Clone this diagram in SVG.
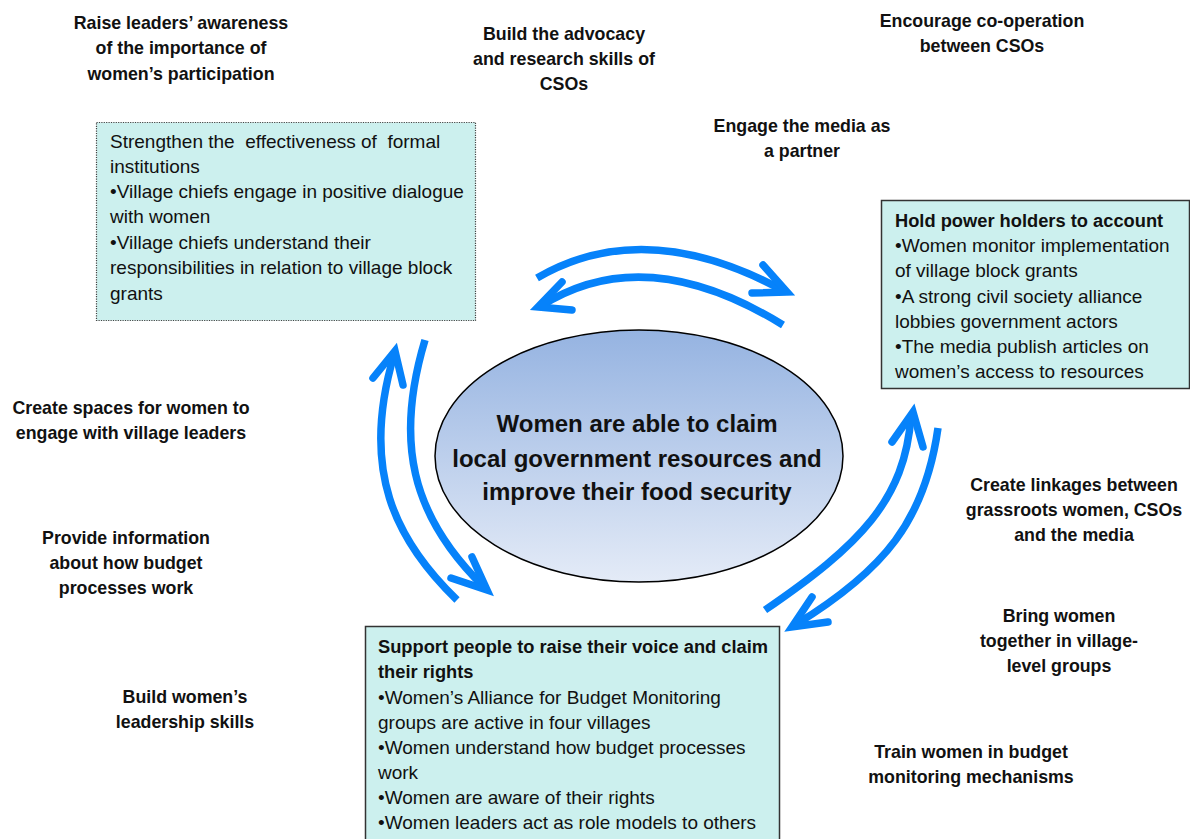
<svg xmlns="http://www.w3.org/2000/svg" width="1190" height="839" viewBox="0 0 1190 839">
<defs>
<linearGradient id="eg" x1="0" y1="0" x2="0" y2="1">
<stop offset="0" stop-color="#95b3e1"/>
<stop offset="1" stop-color="#e4ebf7"/>
</linearGradient>
<style>
.lbl{font-family:"Liberation Sans",Arial,sans-serif;font-weight:bold;font-size:17.8px;fill:#111;text-anchor:middle}
.bt{font-family:"Liberation Sans",Arial,sans-serif;font-size:19px;fill:#111;white-space:pre}
.bh{font-weight:bold;font-size:18.3px}
.box{fill:#ccf0ee}
.ct{font-family:"Liberation Sans",Arial,sans-serif;font-weight:bold;font-size:24px;fill:#111;text-anchor:middle}
.arr{fill:none;stroke:#0682fa;stroke-width:7.5;stroke-linecap:butt}
.hd{fill:none;stroke:#0682fa;stroke-width:7.5;stroke-linecap:round;stroke-linejoin:miter}
</style>
</defs>
<rect width="1190" height="839" fill="#fff"/>

<g id="center">
<ellipse cx="639" cy="456" rx="204" ry="126" fill="url(#eg)" stroke="#000" stroke-width="1.5"/>
<text class="ct" x="637" y="432">Women are able to claim</text>
<text class="ct" x="637" y="467">local government resources and</text>
<text class="ct" x="637" y="500">improve their food security</text>
</g>

<g id="box-formal">
<rect class="box" x="96.5" y="122.5" width="379" height="198" stroke="#444" stroke-width="1.2" stroke-dasharray="1.2 1.2"/>
<text class="bt" x="110" y="148">Strengthen the  effectiveness of  formal</text>
<text class="bt" x="110" y="173">institutions</text>
<text class="bt" x="110" y="198">•Village chiefs engage in positive dialogue</text>
<text class="bt" x="110" y="223">with women</text>
<text class="bt" x="110" y="249">•Village chiefs understand their</text>
<text class="bt" x="110" y="274">responsibilities in relation to village block</text>
<text class="bt" x="110" y="300">grants</text>
</g>

<g id="box-account">
<rect class="box" x="881.5" y="200.5" width="308" height="188" stroke="#333" stroke-width="1.5"/>
<text class="bt bh" x="895" y="227">Hold power holders to account</text>
<text class="bt" x="895" y="252">•Women monitor implementation</text>
<text class="bt" x="895" y="277">of village block grants</text>
<text class="bt" x="895" y="303">•A strong civil society alliance</text>
<text class="bt" x="895" y="328">lobbies government actors</text>
<text class="bt" x="895" y="353">•The media publish articles on</text>
<text class="bt" x="895" y="378">women’s access to resources</text>
</g>

<g id="box-voice">
<rect class="box" x="365.5" y="626.5" width="414" height="220" stroke="#333" stroke-width="1.5"/>
<text class="bt bh" x="378" y="653">Support people to raise their voice and claim</text>
<text class="bt bh" x="378" y="678">their rights</text>
<text class="bt" x="378" y="704">•Women’s Alliance for Budget Monitoring</text>
<text class="bt" x="378" y="729">groups are active in four villages</text>
<text class="bt" x="378" y="754">•Women understand how budget processes</text>
<text class="bt" x="378" y="779">work</text>
<text class="bt" x="378" y="804">•Women are aware of their rights</text>
<text class="bt" x="378" y="829">•Women leaders act as role models to others</text>
</g>

<g id="label-raise">
<text class="lbl" x="181" y="29">Raise leaders’ awareness</text>
<text class="lbl" x="181" y="54">of the importance of</text>
<text class="lbl" x="181" y="80">women’s participation</text>
</g>
<g id="label-advocacy">
<text class="lbl" x="564" y="40">Build the advocacy</text>
<text class="lbl" x="564" y="65">and research skills of</text>
<text class="lbl" x="564" y="90">CSOs</text>
</g>
<g id="label-cooperation">
<text class="lbl" x="982" y="27">Encourage co-operation</text>
<text class="lbl" x="982" y="52">between CSOs</text>
</g>
<g id="label-media">
<text class="lbl" x="802" y="132">Engage the media as</text>
<text class="lbl" x="802" y="157">a partner</text>
</g>
<g id="label-spaces">
<text class="lbl" x="131" y="414">Create spaces for women to</text>
<text class="lbl" x="131" y="439">engage with village leaders</text>
</g>
<g id="label-info">
<text class="lbl" x="126" y="544">Provide information</text>
<text class="lbl" x="126" y="569">about how budget</text>
<text class="lbl" x="126" y="594">processes work</text>
</g>
<g id="label-leadership">
<text class="lbl" x="185" y="703">Build women’s</text>
<text class="lbl" x="185" y="728">leadership skills</text>
</g>
<g id="label-linkages">
<text class="lbl" x="1074" y="491">Create linkages between</text>
<text class="lbl" x="1074" y="516">grassroots women, CSOs</text>
<text class="lbl" x="1074" y="541">and the media</text>
</g>
<g id="label-groups">
<text class="lbl" x="1059" y="622">Bring women</text>
<text class="lbl" x="1059" y="647">together in village-</text>
<text class="lbl" x="1059" y="672">level groups</text>
</g>
<g id="label-train">
<text class="lbl" x="971" y="758">Train women in budget</text>
<text class="lbl" x="971" y="783">monitoring mechanisms</text>
</g>

<g id="connectors">
<path class="arr" d="M537,278 Q645,215 784,291"/>
<polyline class="hd" points="763,265 787,292 752,293"/>
<path class="arr" d="M783,325 Q645,240 541,306"/>
<polyline class="hd" points="562,282 538,307 572,310"/>
<path class="arr" d="M457,600 C395,540 360,470 394,355"/>
<polyline class="hd" points="373,378 395,351 403,385"/>
<path class="arr" d="M425,340 C395,440 410,515 484,587"/>
<polyline class="hd" points="472,557 487,590 451,578"/>
<path class="arr" d="M765,610 C860,545 905,500 911,416"/>
<polyline class="hd" points="892,442 913,412 923,447"/>
<path class="arr" d="M938,428 C925,520 885,570 795,625"/>
<polyline class="hd" points="812,597 792,627 828,622"/>
</g>
</svg>
